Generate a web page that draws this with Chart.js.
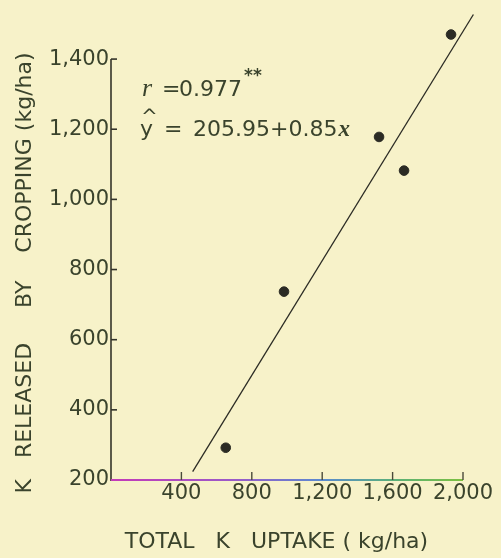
<!DOCTYPE html>
<html>
<head>
<meta charset="utf-8">
<script src="https://cdn.jsdelivr.net/npm/chart.js@4/dist/chart.umd.min.js"></script>
<style>
  html, body { margin: 0; padding: 0; background: #f7f2c9; }
  #wrap { width: 501px; height: 558px; }
</style>
</head>
<body>
<div id="wrap"><canvas id="c" width="501" height="558"></canvas></div>
<script>
// ---- data ----
const uptake   = [652, 983, 1523, 1665, 1932];   // total K uptake (kg/ha)
const released = [292, 737, 1178, 1082, 1470];   // K released by cropping (kg/ha)
const fitX = [464, 2059];                         // drawn regression line ends (x)
const fitY = [224, 1527];                         // drawn regression line ends (y)
const xTicks = [400, 800, 1200, 1600, 2000];
const yTicks = [200, 400, 600, 800, 1000, 1200, 1400];
const xTitle = 'TOTAL   K   UPTAKE ( kg/ha)   ';
const yTitle = 'K   RELEASED     BY    CROPPING (kg/ha)      ';
const stats = { r: '0.977', intercept: '205.95', slope: '0.85' };

const TEXT = '#3a432c';
const INK = '#2b2b24';
const FONT = 'DejaVu Sans';

const pts = uptake.map((x, i) => ({ x, y: released[i] }));
const fit = fitX.map((x, i) => ({ x, y: fitY[i] }));

const axesPlugin = {
  id: 'axesPlugin',
  afterDatasetsDraw(chart) {
    const { ctx } = chart;
    const xs = chart.scales.x, ys = chart.scales.y;
    const x0 = xs.getPixelForValue(0);
    const y0 = ys.getPixelForValue(200);
    const xEnd = xs.getPixelForValue(2000);
    const yTop = ys.getPixelForValue(1400);
    ctx.save();
    // y axis
    ctx.strokeStyle = '#34342a';
    ctx.lineWidth = 1.6;
    ctx.beginPath();
    ctx.moveTo(x0, y0 + 1);
    ctx.lineTo(x0, yTop);
    ctx.stroke();
    yTicks.forEach(v => {
      if (v === 200) return;
      const y = ys.getPixelForValue(v);
      ctx.beginPath();
      ctx.moveTo(x0, y);
      ctx.lineTo(x0 + 6, y);
      ctx.stroke();
    });
    // x axis with colour fringe gradient
    const g = ctx.createLinearGradient(x0, 0, xEnd, 0);
    g.addColorStop(0, '#c43ab8');
    g.addColorStop(0.35, '#9a5ac8');
    g.addColorStop(0.6, '#5a8ad0');
    g.addColorStop(0.8, '#5ab07a');
    g.addColorStop(1, '#7cc040');
    ctx.strokeStyle = g;
    ctx.lineWidth = 2;
    ctx.beginPath();
    ctx.moveTo(x0, y0);
    ctx.lineTo(xEnd, y0);
    ctx.stroke();
    ctx.strokeStyle = '#4a4a3a';
    ctx.lineWidth = 1.4;
    xTicks.forEach(v => {
      const x = xs.getPixelForValue(v);
      ctx.beginPath();
      ctx.moveTo(x, y0);
      ctx.lineTo(x, y0 - 8);
      ctx.stroke();
    });
    // annotations
    ctx.fillStyle = TEXT;
    ctx.textBaseline = 'alphabetic';
    const ax = xs.getPixelForValue(165);
    const r1 = ys.getPixelForValue(1295);
    const r2 = ys.getPixelForValue(1180);
    ctx.font = 'italic 26px "Liberation Serif"';
    ctx.fillText('r', ax + 2, r1);
    ctx.font = '22px "' + FONT + '"';
    ctx.fillText('=', ax + 22, r1);
    ctx.fillText(stats.r, ax + 39, r1);
    const w1 = ctx.measureText(stats.r).width;
    ctx.font = 'bold 17px "' + FONT + '"';
    ctx.fillText('**', ax + 41 + w1, r1 - 15);
    ctx.font = '22px "' + FONT + '"';
    ctx.fillText('y', ax, r2);
    ctx.font = '20px "' + FONT + '"';
    ctx.fillText('^', ax + 1, r2 - 13);
    ctx.font = '22px "' + FONT + '"';
    ctx.fillText('=', ax + 24, r2);
    const s = stats.intercept + '+' + stats.slope;
    ctx.fillText(s, ax + 53, r2);
    const w2 = ctx.measureText(s).width;
    ctx.font = 'italic bold 23px "Liberation Serif"';
    ctx.fillText('x', ax + 54 + w2, r2);
    ctx.restore();
  }
};

new Chart(document.getElementById('c'), {
  type: 'scatter',
  data: {
    datasets: [
      {
        data: pts,
        pointRadius: 4.8,
        pointBackgroundColor: INK,
        pointBorderColor: INK,
        showLine: false,
        order: 1
      },
      {
        data: fit,
        showLine: true,
        borderColor: INK,
        borderWidth: 1.3,
        pointRadius: 0,
        clip: false,
        order: 2
      }
    ]
  },
  options: {
    responsive: false,
    animation: false,
    devicePixelRatio: 1,
    layout: { padding: { top: 24, right: 38, left: 0, bottom: 0 } },
    plugins: { legend: { display: false }, tooltip: { enabled: false } },
    scales: {
      x: {
        type: 'linear',
        min: 0, max: 2000,
        grid: { display: false, drawTicks: false },
        border: { display: false },
        afterBuildTicks: s => { s.ticks = xTicks.map(v => ({ value: v })); },
        afterFit: s => { s.height = 78; },
        ticks: {
          padding: 1,
          color: TEXT,
          font: { family: FONT, size: 21 },
          maxRotation: 0,
          callback: v => v.toLocaleString('en-US')
        },
        title: {
          display: true,
          text: xTitle,
          color: TEXT,
          font: { family: FONT, size: 22 },
          padding: { top: 0, bottom: 3 }
        }
      },
      y: {
        type: 'linear',
        min: 200, max: 1500,
        grid: { display: false, drawTicks: false },
        border: { display: false },
        afterBuildTicks: s => { s.ticks = yTicks.map(v => ({ value: v })); },
        afterFit: s => { s.width = 111; },
        ticks: {
          padding: 2,
          color: TEXT,
          font: { family: FONT, size: 21 },
          callback: v => v.toLocaleString('en-US')
        },
        title: {
          display: true,
          text: yTitle,
          color: TEXT,
          font: { family: FONT, size: 22 },
          padding: { top: 12, bottom: 0 }
        }
      }
    }
  },
  plugins: [axesPlugin]
});
</script>
</body>
</html>
